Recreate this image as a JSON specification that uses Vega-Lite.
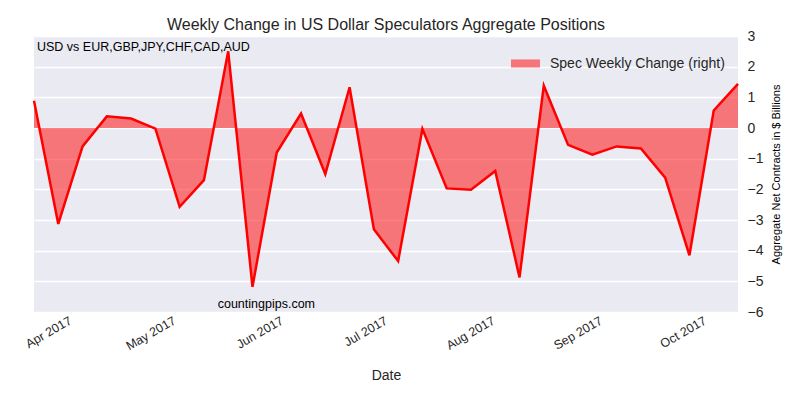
{
  "$schema": "https://vega.github.io/schema/vega-lite/v6.json",
  "width": 704,
  "height": 276,
  "autosize": {"type": "none"},
  "padding": {"left": 34, "top": 36, "right": 62, "bottom": 85},
  "background": "white",
  "title": {
    "text": "Weekly Change in US Dollar Speculators Aggregate Positions",
    "fontSize": 16,
    "font": "Liberation Sans",
    "fontWeight": "normal",
    "color": "#262626",
    "offset": -4
  },
  "config": {
    "font": "Liberation Sans",
    "view": {"fill": "#EAEAF2", "stroke": null}
  },
  "data": {
    "values": [
      {"date": "2017-03-21", "value": 0.89},
      {"date": "2017-03-28", "value": -3.13},
      {"date": "2017-04-04", "value": -0.6},
      {"date": "2017-04-11", "value": 0.38},
      {"date": "2017-04-18", "value": 0.31},
      {"date": "2017-04-25", "value": -0.02},
      {"date": "2017-05-02", "value": -2.57},
      {"date": "2017-05-09", "value": -1.7},
      {"date": "2017-05-16", "value": 2.5},
      {"date": "2017-05-23", "value": -5.18},
      {"date": "2017-05-30", "value": -0.8},
      {"date": "2017-06-06", "value": 0.47},
      {"date": "2017-06-13", "value": -1.5},
      {"date": "2017-06-20", "value": 1.33},
      {"date": "2017-06-27", "value": -3.3},
      {"date": "2017-07-04", "value": -4.34},
      {"date": "2017-07-11", "value": -0.03},
      {"date": "2017-07-18", "value": -1.97},
      {"date": "2017-07-25", "value": -2.01},
      {"date": "2017-08-01", "value": -1.4},
      {"date": "2017-08-08", "value": -4.87},
      {"date": "2017-08-15", "value": 1.38},
      {"date": "2017-08-22", "value": -0.55},
      {"date": "2017-08-29", "value": -0.87},
      {"date": "2017-09-05", "value": -0.6},
      {"date": "2017-09-12", "value": -0.67},
      {"date": "2017-09-19", "value": -1.62},
      {"date": "2017-09-26", "value": -4.15},
      {"date": "2017-10-03", "value": 0.57},
      {"date": "2017-10-10", "value": 1.44}
    ]
  },
  "encoding": {
    "x": {
      "field": "date",
      "type": "temporal",
      "scale": {"type": "utc", "domain": [{"year": 2017, "month": 3, "date": 21, "utc": true}, {"year": 2017, "month": 10, "date": 10, "utc": true}], "nice": false},
      "axis": {
        "title": "Date",
        "titleFontSize": 14,
        "titleFontWeight": "normal",
        "titleColor": "#262626",
        "titlePadding": 16,
        "format": "%b %Y",
        "tickCount": {"interval": "month", "step": 1},
        "labelAngle": -30,
        "labelAlign": "right",
        "labelBaseline": "top",
        "labelFontSize": 12.5,
        "labelColor": "#262626",
        "labelPadding": 2,
        "labelOffset": -5,
        "labelOverlap": false,
        "labelFlush": false,
        "ticks": false,
        "domain": false,
        "grid": false
      }
    },
    "y": {
      "field": "value",
      "type": "quantitative",
      "scale": {"domain": [-6, 3], "nice": false, "zero": false},
      "axis": {
        "orient": "right",
        "title": "Aggregate Net Contracts in $ Billions",
        "titleAngle": -90,
        "titleBaseline": "top",
        "titleFontSize": 11,
        "titleFontWeight": "normal",
        "titleColor": "black",
        "titlePadding": 8,
        "values": [-6, -5, -4, -3, -2, -1, 0, 1, 2, 3],
        "format": "d",
        "labelExpr": "replace(datum.label, '-', '\u2212')",
        "labelFontSize": 14,
        "labelColor": "#262626",
        "labelPadding": 9,
        "labelAlign": "left",
        "ticks": false,
        "domain": false,
        "grid": true,
        "gridColor": "white",
        "gridWidth": 1.3
      }
    }
  },
  "layer": [
    {
      "mark": {"type": "area", "fillOpacity": 0.5},
      "encoding": {
        "y2": {"datum": 0},
        "color": {
          "datum": "Spec Weekly Change (right)",
          "scale": {"range": ["red"]},
          "legend": {
            "title": null,
            "orient": "top-right",
            "offset": 13,
            "symbolType": "M-1,-0.28L1,-0.28L1,0.28L-1,0.28Z",
            "symbolSize": 841,
            "symbolOpacity": 0.5,
            "symbolStrokeWidth": 0,
            "labelFontSize": 14,
            "labelLimit": 400,
            "labelColor": "#262626",
            "labelOffset": 10,
            "padding": 0
          }
        }
      }
    },
    {
      "mark": {"type": "line", "color": "red", "strokeWidth": 2.5},
      "encoding": {}
    },
    {
      "transform": [{"filter": "datum.value == 0.89"}],
      "mark": {"type": "text", "align": "left", "baseline": "middle", "fontSize": 12.5, "color": "black", "dx": 3},
      "encoding": {
        "x": {"datum": {"year": 2017, "month": 3, "date": 21, "utc": true}, "type": "temporal"},
        "y": {"datum": 2.65},
        "text": {"value": "USD vs EUR,GBP,JPY,CHF,CAD,AUD"}
      }
    },
    {
      "transform": [{"filter": "datum.value == 0.89"}],
      "mark": {"type": "text", "align": "center", "baseline": "middle", "fontSize": 12.5, "color": "black"},
      "encoding": {
        "x": {"datum": {"year": 2017, "month": 5, "date": 27, "utc": true}, "type": "temporal"},
        "y": {"datum": -5.74},
        "text": {"value": "countingpips.com"}
      }
    }
  ]
}
